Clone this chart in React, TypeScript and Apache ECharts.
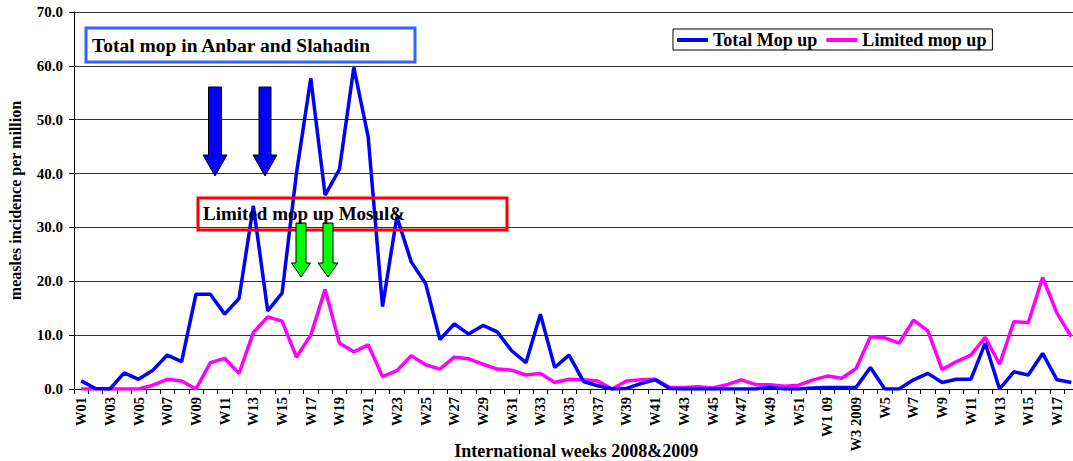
import React, { useEffect, useRef } from "react";
import * as echarts from "echarts";

const weeks2008: string[] = [];
for (let i = 1; i <= 52; i++) weeks2008.push("W" + (i < 10 ? "0" + i : String(i)));
const weeks2009: string[] = ["W1 09", "W2", "W3 2009", "W4", "W5", "W6", "W7", "W8", "W9", "W10", "W11", "W12", "W13", "W14", "W15", "W16", "W17", "W18"];
const categories: string[] = [...weeks2008, ...weeks2009];

const totalMopUp: number[] = [
  1.5, 0.1, 0, 3.0, 1.8, 3.5, 6.3, 5.1, 17.6, 17.6,
  13.9, 16.8, 34.0, 14.5, 17.8, 40.0, 57.7, 36.0, 40.8, 59.7,
  46.8, 15.3, 32.0, 23.6, 19.6, 9.2, 12.1, 10.2, 11.8, 10.6,
  7.1, 4.9, 13.9, 4.0, 6.3, 1.4, 0.6, 0, 0.1, 1.0,
  1.7, 0.1, 0, 0, 0, 0, 0, 0, 0.3, 0,
  0, 0.2, 0.3, 0.3, 0.3, 4.0, 0, 0, 1.7, 2.9,
  1.2, 1.8, 1.8, 8.5, 0, 3.2, 2.6, 6.6, 1.7, 1.2,
];

const limitedMopUp: number[] = [
  0, 0, 0, 0, 0, 0.7, 1.8, 1.5, 0, 4.9,
  5.7, 2.9, 10.5, 13.4, 12.6, 5.9, 10.0, 18.5, 8.5, 6.9,
  8.2, 2.3, 3.4, 6.2, 4.5, 3.7, 5.9, 5.6, 4.6, 3.7,
  3.5, 2.6, 2.9, 1.2, 1.8, 1.7, 1.5, 0, 1.5, 1.7,
  1.8, 0.3, 0.3, 0.4, 0.2, 0.8, 1.7, 0.8, 0.8, 0.5,
  0.7, 1.7, 2.4, 2.0, 3.8, 9.7, 9.5, 8.5, 12.8, 10.8,
  3.6, 5.1, 6.3, 9.6, 4.6, 12.5, 12.3, 20.7, 14.1, 9.7,
];

const FONT = "'Liberation Serif', 'Times New Roman', serif";

function downArrow(cx: number, top: number, shaftW: number, headW: number, headTop: number, tip: number, fill: string) {
  const s = shaftW / 2;
  const h = headW / 2;
  return {
    type: "polygon",
    z: 100,
    shape: {
      points: [
        [cx - s, top], [cx + s, top], [cx + s, headTop], [cx + h, headTop],
        [cx, tip], [cx - h, headTop], [cx - s, headTop],
      ],
    },
    style: { fill, stroke: "#000", lineWidth: 1 },
  };
}

export default function App() {
  const ref = useRef<HTMLDivElement>(null);
  useEffect(() => {
    if (!ref.current) return;
    const chart = echarts.init(ref.current, undefined, { renderer: "svg" });
    chart.setOption({
      animation: false,
      backgroundColor: "#fff",
      textStyle: { fontFamily: FONT },
      grid: { left: 74, right: -5.5, top: 12, bottom: 72, containLabel: false, outerBoundsMode: "none" },
      legend: {
        left: 673,
        top: 29,
        padding: [2, 6, 1, 4],
        borderColor: "#000",
        borderWidth: 1,
        backgroundColor: "#fff",
        itemWidth: 31,
        itemHeight: 4,
        itemGap: 9,
        textStyle: { fontFamily: FONT, fontWeight: "bold", fontSize: 18, color: "#000" },
        data: [
          { name: "Total Mop up", icon: "rect" },
          { name: "Limited mop up", icon: "rect" },
        ],
      },
      xAxis: {
        type: "category",
        data: categories,
        boundaryGap: true,
        name: "International weeks 2008&2009",
        nameLocation: "middle",
        nameGap: 53,
        nameMoveOverlap: false,
        nameTextStyle: { fontFamily: FONT, fontWeight: "bold", fontSize: 18, color: "#000" },
        axisLine: { lineStyle: { color: "#000", width: 1 } },
        axisTick: { show: true, interval: 0, length: 5, lineStyle: { color: "#000" } },
        axisLabel: {
          interval: 1,
          rotate: 90,
          margin: 8,
          fontFamily: FONT,
          fontWeight: "bold",
          fontSize: 14.5,
          color: "#000",
        },
        splitLine: { show: false },
      },
      yAxis: {
        type: "value",
        min: 0,
        max: 70,
        interval: 10,
        name: "measles incidence per million",
        nameLocation: "middle",
        nameGap: 51,
        nameRotate: 90,
        nameMoveOverlap: false,
        nameTextStyle: { fontFamily: FONT, fontWeight: "bold", fontSize: 16, color: "#000" },
        axisLine: { show: true, lineStyle: { color: "#000", width: 1 } },
        axisTick: { show: true, length: 5, lineStyle: { color: "#000" } },
        axisLabel: {
          formatter: (v: number) => v.toFixed(1),
          fontFamily: FONT,
          fontWeight: "bold",
          fontSize: 15,
          color: "#000",
          margin: 11,
        },
        splitLine: { show: true, lineStyle: { color: "#333", width: 1 } },
      },
      series: [
        {
          name: "Total Mop up",
          type: "line",
          data: totalMopUp,
          symbol: "none",
          lineStyle: { color: "#0000ff", width: 3.5 },
          itemStyle: { color: "#0000ff" },
          z: 3,
        },
        {
          name: "Limited mop up",
          type: "line",
          data: limitedMopUp,
          symbol: "none",
          lineStyle: { color: "#ff00ff", width: 3.5 },
          itemStyle: { color: "#ff00ff" },
          z: 2,
        },
      ],
      graphic: [
        {
          type: "rect",
          z: 100,
          shape: { x: 86, y: 28, width: 329, height: 34 },
          style: { fill: "#fff", stroke: "#3366ff", lineWidth: 3 },
        },
        {
          type: "text",
          z: 101,
          x: 92,
          y: 45,
          style: { text: "Total mop in Anbar and Slahadin", font: "bold 19.5px " + FONT, fill: "#000", verticalAlign: "middle" },
        },
        {
          type: "rect",
          z: 100,
          shape: { x: 198, y: 198, width: 309, height: 32 },
          style: { fill: "rgba(0,0,0,0)", stroke: "#ff0000", lineWidth: 3 },
        },
        {
          type: "text",
          z: 101,
          x: 203,
          y: 213,
          style: { text: "Limited mop up Mosul&", font: "bold 19px " + FONT, fill: "#000", verticalAlign: "middle" },
        },
        downArrow(215, 87, 13, 24, 155, 176, "#0000ff"),
        downArrow(265, 87, 12, 24, 155, 176, "#0000ff"),
        downArrow(301, 223, 10, 19, 263, 277, "#00ff00"),
        downArrow(328, 223, 10, 20, 263, 277, "#00ff00"),
      ],
    });
    return () => chart.dispose();
  }, []);
  return <div ref={ref} style={{ position: "fixed", left: 0, top: 0, width: 1073, height: 461 }} />;
}
